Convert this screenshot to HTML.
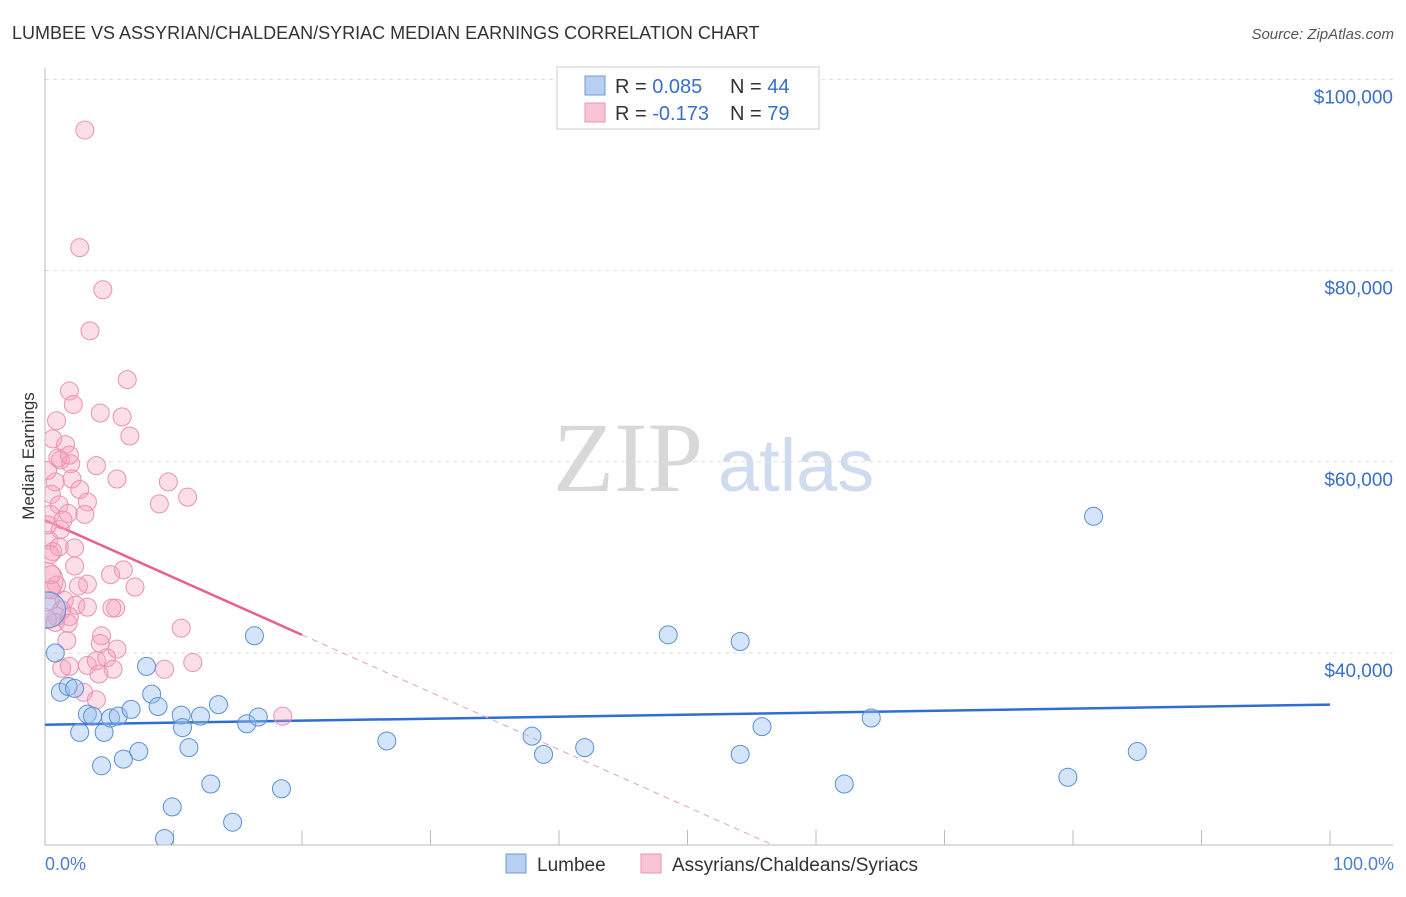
<!DOCTYPE html>
<html><head><meta charset="utf-8"><style>
body{margin:0;background:#fff;font-family:"Liberation Sans",sans-serif;}
</style></head><body>
<svg id="chart" width="1406" height="892" viewBox="0 0 1406 892" font-family="Liberation Sans, sans-serif">
<defs><clipPath id="plotclip"><rect x="45" y="60" width="1360" height="785"/></clipPath></defs>
<text x="12" y="39" font-size="18" fill="#333">LUMBEE VS ASSYRIAN/CHALDEAN/SYRIAC MEDIAN EARNINGS CORRELATION CHART</text>
<text x="1394" y="39" font-size="15" fill="#555" text-anchor="end" font-style="italic">Source: ZipAtlas.com</text>
<g>
<text x="553" y="491" font-size="100" style="font-family:'Liberation Serif',serif" fill="#d8d8d8">ZIP</text>
<text x="718" y="491" font-size="74" fill="#cfdcf0">atlas</text>
</g>
<g id="grid"></g>
<line x1="45" y1="68" x2="45" y2="845" stroke="#bbb"/>
<line x1="45" y1="845" x2="1393" y2="845" stroke="#bbb"/>
<g id="ticks"></g>
<text transform="translate(34,456) rotate(-90)" font-size="17" fill="#333" text-anchor="middle">Median Earnings</text>
<text x="45" y="870" font-size="18" fill="#4a7fd0">0.0%</text>
<text x="1394" y="870" font-size="18" fill="#4a7fd0" text-anchor="end">100.0%</text>
<g id="lines"></g>
<g id="pts" clip-path="url(#plotclip)"></g>
<g>
<rect x="557" y="67" width="262" height="62" fill="#fff" stroke="#ccc"/>
<rect x="585" y="76" width="20" height="19" fill="#b7d0f2" stroke="#6f9ad8"/>
<rect x="585" y="103" width="20" height="19" fill="#f8c3d3" stroke="#e895ae"/>
<text x="615" y="93" font-size="20" fill="#333">R = <tspan fill="#3a6fc7">0.085</tspan><tspan x="730">N = </tspan><tspan fill="#3a6fc7">44</tspan></text>
<text x="615" y="120" font-size="20" fill="#333">R = <tspan fill="#3a6fc7">-0.173</tspan><tspan x="730">N = </tspan><tspan fill="#3a6fc7">79</tspan></text>
</g>
<g>
<rect x="506" y="854" width="20" height="19" fill="#b7d0f2" stroke="#6f9ad8"/>
<text x="537" y="871" font-size="19" fill="#333">Lumbee</text>
<rect x="641" y="854" width="20" height="19" fill="#f8c3d3" stroke="#e895ae"/>
<text x="672" y="871" font-size="19" fill="#333">Assyrians/Chaldeans/Syriacs</text>
</g>
</svg>
<script>
const yTicks=[100000,80000,60000,40000];
const yTickLabels=["$100,000","$80,000","$60,000","$40,000"];
const xTicks=[10,20,30,40,50,60,70,80,90,100];
const blueX=[0.8,1.2,1.8,2.3,2.7,3.3,3.7,4.4,4.6,5.1,5.7,6.1,6.7,7.3,7.9,8.3,8.8,9.3,9.9,10.6,10.7,11.2,12.1,12.9,13.5,14.6,15.7,16.3,16.6,18.4,26.6,37.9,38.8,42.0,48.5,54.1,54.1,55.8,62.2,64.3,79.6,81.6,85.0,0.2];
const blueY=[40.0,35.9,36.5,36.3,31.7,33.6,33.4,28.2,31.7,33.2,33.4,28.9,34.1,29.7,38.6,35.7,34.4,20.6,23.9,33.5,32.2,30.1,33.4,26.3,34.6,22.3,32.6,41.8,33.3,25.8,30.8,31.3,29.4,30.1,41.9,41.2,29.4,32.3,26.3,33.2,27.0,54.3,29.7,44.5];
const pinkX=[3.1,2.7,4.5,3.5,6.4,1.9,0.9,2.2,4.3,6.0,6.6,0.6,1.6,1.2,2.0,4.0,0.8,2.1,5.6,9.6,11.1,8.9,0.5,2.7,3.3,1.1,3.1,1.8,0.4,1.2,0.3,2.3,1.1,0.6,0.4,6.1,5.1,7.0,3.3,0.9,2.6,1.5,2.4,5.5,5.2,3.3,0.4,1.9,0.9,10.6,4.4,1.7,5.6,11.5,1.3,1.9,3.3,4.0,4.8,9.3,5.3,4.2,3.0,4.0,18.5,0.0,0.2,1.3,0.5,1.4,0.2,1.0,1.9,2.3,0.2,0.8,1.8,4.3,0.5];
const pinkY=[94.7,82.4,78.0,73.7,68.6,67.4,64.3,66.0,65.1,64.7,62.7,62.4,61.8,60.2,59.8,59.6,57.9,58.2,58.2,57.9,56.3,55.6,56.6,57.1,55.8,55.5,54.5,54.6,54.5,52.9,51.8,51.0,51.1,50.6,50.3,48.7,48.2,46.9,47.2,47.1,47.0,45.5,45.0,44.7,44.7,44.8,45.5,43.8,43.8,42.6,41.8,41.3,40.4,39.0,38.4,38.6,38.7,39.2,39.5,38.3,38.3,37.8,35.9,35.1,33.4,47.6,43.5,44.5,48.2,53.9,59.1,60.4,60.7,49.1,53.4,43.2,43.1,41.0,46.6];
const blueTrend=[32.5,34.6];
const pinkTrend=[53.9,41.9];
const NS="http://www.w3.org/2000/svg";
const X=v=>45+v*12.85;
const Y=v=>653-(v-40)*9.56;
function mk(tag,attrs,parent){const e=document.createElementNS(NS,tag);for(const k in attrs)e.setAttribute(k,attrs[k]);parent.appendChild(e);return e;}
const grid=document.getElementById('grid'),ticks=document.getElementById('ticks'),lines=document.getElementById('lines'),pts=document.getElementById('pts');
yTicks.forEach((t,i)=>{const y=Y(t/1000);
const l=mk('line',{x1:45,x2:1393,y1:y,y2:y,stroke:'#ddd','stroke-dasharray':'4,4'},grid);


const tx=mk('text',{x:1393,y:y+24,'font-size':19,fill:'#3a6fc7','text-anchor':'end'},ticks);tx.textContent=yTickLabels[i];

});
xTicks.forEach(t=>{const l=mk('line',{x1:X(t),x2:X(t),y1:830,y2:845,stroke:'#bbb'},ticks);

});
let bl=mk('line',{x1:X(0),y1:Y(blueTrend[0]),x2:X(100),y2:Y(blueTrend[1]),stroke:'#2f6fd2','stroke-width':2.5},lines);


const slope=(pinkTrend[1]-pinkTrend[0])/20;
const xEnd=Math.min(100,(19.9-pinkTrend[0])/slope);
let pl=mk('line',{x1:X(0),y1:Y(pinkTrend[0]),x2:X(20),y2:Y(pinkTrend[1]),stroke:'#e8608c','stroke-width':2.5},lines);


let pd=mk('line',{x1:X(20),y1:Y(pinkTrend[1]),x2:X(xEnd),y2:Y(pinkTrend[0]+slope*xEnd),stroke:'#e8a0b8','stroke-width':1,'stroke-dasharray':'6,5'},lines);


pinkX.forEach((x,i)=>{const big=i===65;
const c=mk('circle',{cx:X(x),cy:Y(pinkY[i]),r:big?18:9,fill:'rgba(245,160,188,0.35)',stroke:'#e992ae','stroke-width':1},pts);

});
blueX.forEach((x,i)=>{const big=i===43;
const c=mk('circle',{cx:X(x),cy:Y(blueY[i]),r:big?18:9,fill:'rgba(150,190,240,0.4)',stroke:'#5b8fd6','stroke-width':1},pts);

});
</script>
</body></html>
